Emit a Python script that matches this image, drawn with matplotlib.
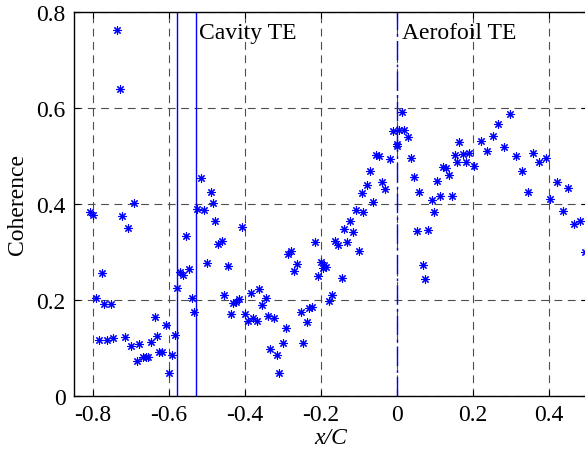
import matplotlib
matplotlib.use("Agg")
import matplotlib.pyplot as plt
from matplotlib.ticker import FixedLocator, FixedFormatter

x_pos = [-0.737, -0.729, -0.515, -0.490, -0.808, -0.800, -0.692, -0.724, -0.708, -0.776,
         -0.792, -0.771, -0.753, -0.784, -0.763, -0.747, -0.716, -0.700, -0.679, -0.684,
         -0.668, -0.660, -0.655, -0.647, -0.632, -0.637, -0.608, -0.626, -0.619, -0.592,
         -0.600, -0.584, -0.580, -0.571, -0.563, -0.547, -0.555, -0.539, -0.534, -0.526,
         -0.484, -0.508, -0.479, -0.408, -0.471, -0.461, -0.500, -0.445, -0.455, -0.432,
         -0.424, -0.416, -0.437, -0.384, -0.363, -0.345, -0.355, -0.400, -0.392, -0.379,
         -0.368, -0.340, -0.324, -0.292, -0.334, -0.316, -0.300, -0.310, -0.253, -0.237,
         -0.247, -0.232, -0.224, -0.287, -0.279, -0.263, -0.271, -0.216, -0.200, -0.192,
         -0.187, -0.196, -0.208, -0.179, -0.171, -0.063, -0.108, -0.089, -0.124, -0.139,
         -0.116, -0.163, -0.155, -0.132, -0.100, -0.145, 0.053, 0.082, 0.097, 0.092,
         0.068, 0.074, 0.013, -0.010, 0.005, 0.018, 0.029, 0.000, 0.000, -0.055,
         -0.047, -0.018, 0.037, -0.071, -0.079, -0.039, -0.032, -0.092, 0.045, 0.058,
         0.105, 0.121, 0.129, 0.137, 0.153, 0.158, 0.163, 0.113, 0.145, 0.297,
         0.266, 0.253, 0.221, 0.174, 0.189, 0.182, 0.203, 0.237, 0.282, 0.313,
         0.329, 0.358, 0.374, 0.392, 0.345, 0.421, 0.450, 0.403, 0.437, 0.466,
         0.482, 0.495]
coherence = [0.762, 0.640, 0.454, 0.425, 0.383, 0.377, 0.402, 0.375, 0.350, 0.256,
             0.204, 0.192, 0.192, 0.117, 0.116, 0.120, 0.123, 0.104, 0.109, 0.072,
             0.081, 0.081, 0.081, 0.113, 0.125, 0.165, 0.148, 0.092, 0.092, 0.085,
             0.048, 0.127, 0.225, 0.258, 0.252, 0.265, 0.333, 0.204, 0.175, 0.390,
             0.402, 0.388, 0.365, 0.353, 0.317, 0.323, 0.277, 0.271, 0.210, 0.194,
             0.196, 0.202, 0.171, 0.215, 0.223, 0.204, 0.190, 0.171, 0.156, 0.163,
             0.156, 0.167, 0.163, 0.142, 0.098, 0.085, 0.110, 0.048, 0.175, 0.154,
             0.110, 0.183, 0.185, 0.296, 0.302, 0.275, 0.260, 0.321, 0.279, 0.273,
             0.269, 0.267, 0.250, 0.198, 0.210, 0.404, 0.388, 0.383, 0.365, 0.348,
             0.342, 0.323, 0.315, 0.321, 0.302, 0.246, 0.344, 0.346, 0.383, 0.408,
             0.273, 0.244, 0.592, 0.552, 0.554, 0.554, 0.540, 0.525, 0.520, 0.502,
             0.500, 0.494, 0.496, 0.469, 0.440, 0.446, 0.431, 0.423, 0.456, 0.425,
             0.448, 0.477, 0.475, 0.460, 0.502, 0.487, 0.529, 0.417, 0.417, 0.588,
             0.567, 0.542, 0.531, 0.504, 0.506, 0.487, 0.479, 0.510, 0.519, 0.500,
             0.469, 0.506, 0.487, 0.496, 0.425, 0.446, 0.433, 0.410, 0.385, 0.358,
             0.365, 0.300]

x_ticks = [-0.8, -0.6, -0.4, -0.2, 0.0, 0.2, 0.4]
x_tick_labels = ["-0.8", "-0.6", "-0.4", "-0.2", "0", "0.2", "0.4"]
y_ticks = [0.0, 0.2, 0.4, 0.6, 0.8]
y_tick_labels = ["0", "0.2", "0.4", "0.6", "0.8"]
cavity_lines = [-0.58, -0.53]
aerofoil_te = 0.0

plt.rcParams['font.family'] = ['Liberation Serif', 'DejaVu Serif']
fs = 17

fig = plt.figure(figsize=(5.85, 4.52), dpi=100)
ax = fig.add_axes([74/585, 55/452, (587-74)/585, (439-55)/452])
ax.set_xlim(-0.85, 0.5)
ax.set_ylim(0, 0.8)

ax.xaxis.set_major_locator(FixedLocator(x_ticks))
ax.xaxis.set_major_formatter(FixedFormatter(x_tick_labels))
ax.yaxis.set_major_locator(FixedLocator(y_ticks))
ax.yaxis.set_major_formatter(FixedFormatter(y_tick_labels))
ax.tick_params(direction='in', length=4, width=0.8, top=True, right=True,
               labelsize=fs, pad=6, colors='black')
for s in ax.spines.values():
    s.set_linewidth(1.0)

ax.grid(True, linestyle=(0, (7, 5)), color='0.3', linewidth=0.8)
ax.set_axisbelow(True)

for cx in cavity_lines:
    ax.axvline(cx, color='#0000ff', linewidth=1.0, zorder=2)
ax.axvline(aerofoil_te, color='#0000ff', linewidth=1.0, linestyle=(0, (14, 3, 2, 3)), zorder=2)

ax.plot(x_pos, coherence, linestyle='none', marker=(8, 2, 0), markersize=6,
        markeredgewidth=0.8, color='#0000ff', zorder=3)

ax.text(-0.52, 0.78, "Cavity TE", fontsize=fs, va='top', ha='left')
ax.text(0.012, 0.78, "Aerofoil TE", fontsize=fs, va='top', ha='left')

ax.set_xlabel("x/C", fontsize=fs, fontstyle='italic', labelpad=1)
ax.set_ylabel("Coherence", fontsize=fs, labelpad=6)

fig.savefig("out.png", dpi=100)
